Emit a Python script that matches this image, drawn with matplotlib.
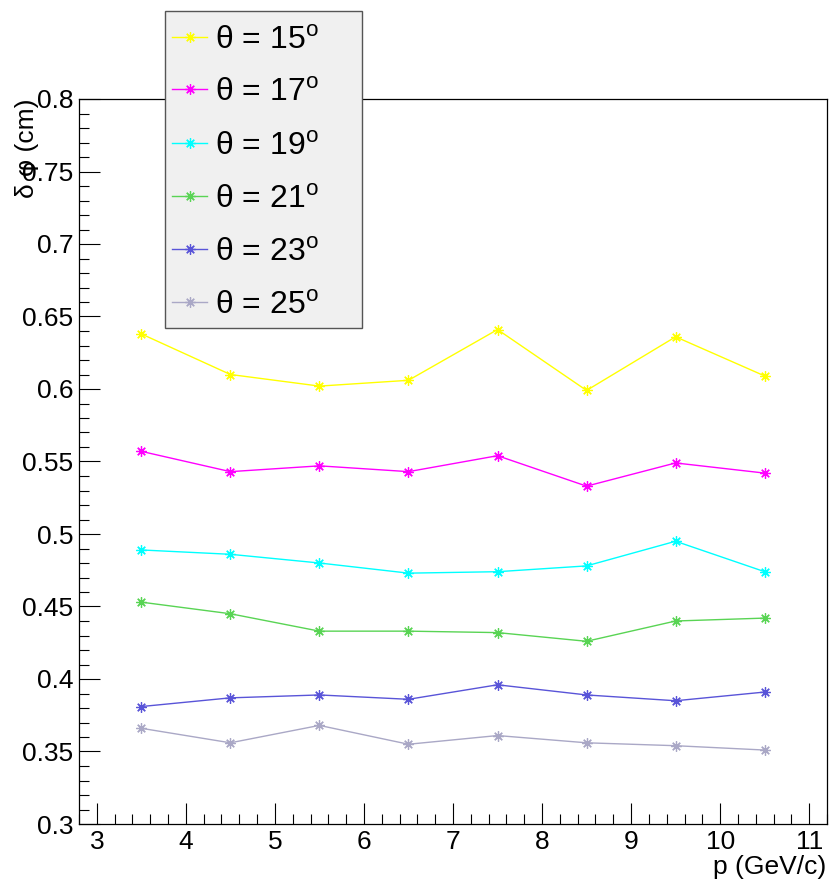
import matplotlib
matplotlib.use("Agg")
import matplotlib.pyplot as plt
from matplotlib.lines import Line2D
from matplotlib.patches import Rectangle
from matplotlib.ticker import MultipleLocator, FormatStrFormatter

plt.rcParams["font.family"] = ["Liberation Sans", "DejaVu Sans"]
plt.rcParams["mathtext.fontset"] = "custom"
plt.rcParams["mathtext.rm"] = "Liberation Sans"

# momentum bins (GeV/c)
p = [3.5, 4.5, 5.5, 6.5, 7.5, 8.5, 9.5, 10.5]

theta_deg = [15, 17, 19, 21, 23, 25]
res_15 = [0.638, 0.610, 0.602, 0.606, 0.641, 0.599, 0.636, 0.609]
res_17 = [0.557, 0.543, 0.547, 0.543, 0.554, 0.533, 0.549, 0.542]
res_19 = [0.489, 0.486, 0.480, 0.473, 0.474, 0.478, 0.495, 0.474]
res_21 = [0.453, 0.445, 0.433, 0.433, 0.432, 0.426, 0.440, 0.442]
res_23 = [0.381, 0.387, 0.389, 0.386, 0.396, 0.389, 0.385, 0.391]
res_25 = [0.366, 0.356, 0.368, 0.355, 0.361, 0.356, 0.354, 0.351]
series = [res_15, res_17, res_19, res_21, res_23, res_25]

colors = ["#ffff00", "#ff00ff", "#00ffff", "#59d454", "#5954d8", "#aaa8c6"]

W, H = 831, 890
fig = plt.figure(figsize=(W / 100, H / 100), dpi=100)
ax = fig.add_axes([79 / W, 1 - 824 / H, (827 - 79) / W, (824 - 99) / H])

asterisk = (8, 2, 0)
lines = []
for ys, c in zip(series, colors):
    ln, = ax.plot(p, ys, color=c, lw=1.0, marker=asterisk, ms=7.5, mew=0.9)
    lines.append(ln)

ax.set_xlim(2.8, 11.2)
ax.set_ylim(0.3, 0.8)
ax.xaxis.set_major_locator(MultipleLocator(1))
ax.xaxis.set_minor_locator(MultipleLocator(0.2))
ax.yaxis.set_major_locator(MultipleLocator(0.05))
ax.yaxis.set_minor_locator(MultipleLocator(0.01))
ax.yaxis.set_major_formatter(FormatStrFormatter("%g"))
ax.tick_params(which="both", direction="in", top=False, right=False, width=0.8,
               labelsize=19)
ax.tick_params(which="major", length=15)
ax.tick_params(which="minor", length=7.5)
ax.tick_params(axis="x", pad=4.5)
ax.tick_params(axis="y", pad=4)
for s in ax.spines.values():
    s.set_linewidth(0.9)

fig.text(826 / W, 1 - 874 / H, "p (GeV/c)", ha="right", va="baseline", fontsize=19)
fig.text(27 / W, 1 - 98 / H, "δ φ (cm)", rotation=90, ha="center", va="top",
         fontsize=19)

# legend box drawn in pixel-like figure coords
x0, x1, y0, y1 = 165, 362, 10.7, 327.7
fig.add_artist(Rectangle((x0 / W, 1 - y1 / H), (x1 - x0) / W, (y1 - y0) / H,
                         transform=fig.transFigure, facecolor="#f0f0f0",
                         edgecolor="#555555", lw=1.0, zorder=5))
row_y = [36.7, 89.3, 142.7, 196.0, 248.7, 301.7]
for ln, th, ry in zip(lines, theta_deg, row_y):
    yy = 1 - ry / H
    fig.add_artist(Line2D([172 / W, 207 / W], [yy, yy], transform=fig.transFigure,
                          color=ln.get_color(), lw=1.0, zorder=6))
    fig.add_artist(Line2D([189.5 / W], [yy], transform=fig.transFigure,
                          color=ln.get_color(), marker=asterisk, ms=7.5, mew=0.9,
                          zorder=6))
    fig.text(215 / W, 1 - (ry + 11.8) / H, "θ = %d$^{\\rm o}$" % th,
             ha="left", va="baseline", fontsize=23, zorder=7)

fig.savefig("out.png", dpi=100)
